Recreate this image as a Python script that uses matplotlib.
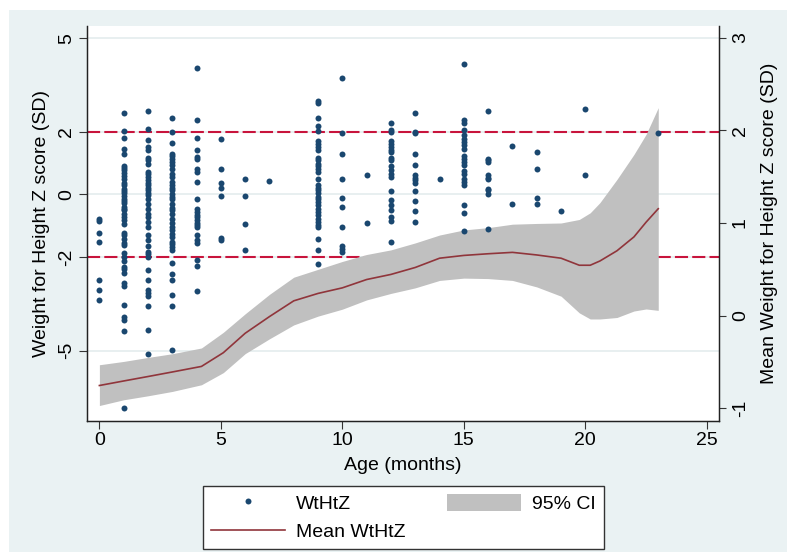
import matplotlib
matplotlib.use("Agg")
import matplotlib.pyplot as plt
from matplotlib.lines import Line2D
from matplotlib.patches import Patch, Rectangle
from matplotlib.transforms import blended_transform_factory

plt.rcParams['font.family'] = ['Liberation Sans', 'DejaVu Sans']

# ---- data ----
# individual WtHtZ values (left axis), grouped by age in months
point_ages = [0, 1, 2, 3, 4, 5, 6, 7, 9, 10, 11, 12, 13, 14, 15, 16, 17, 18, 19, 20, 23]
point_values = [
    [-0.80, -0.84, -1.23, -1.53, -2.73, -3.06, -3.39],
    [2.60, 2.02, 1.81, 1.47, 1.31, 0.92, 0.85, 0.78, 0.69, 0.58, 0.48, 0.37, 0.30, 0.19, 0.12,
     0.05, -0.05, -0.16, -0.22, -0.27, -0.39, -0.45, -0.50, -0.61, -0.71, -0.82, -0.95, -1.22,
     -1.30, -1.41, -1.54, -1.62, -1.86, -2.01, -2.12, -2.31, -2.40, -2.52, -2.84, -2.93, -3.53,
     -3.91, -4.01, -4.36, -6.84],
    [2.68, 2.08, 1.73, 1.52, 1.43, 1.18, 1.09, 0.97, 0.72, 0.65, 0.56, 0.46, 0.37, 0.30, 0.22,
     0.14, 0.05, -0.03, -0.16, -0.29, -0.45, -0.61, -0.71, -0.87, -1.03, -1.30, -1.46, -1.65,
     -1.83, -1.91, -1.99, -2.42, -2.73, -3.05, -3.16, -3.24, -3.56, -4.33, -5.11],
    [2.44, 2.01, 1.64, 1.31, 1.22, 1.15, 1.04, 0.94, 0.80, 0.67, 0.56, 0.40, 0.30, 0.22, 0.14,
     0.01, -0.08, -0.16, -0.29, -0.42, -0.50, -0.63, -0.77, -0.91, -1.03, -1.14, -1.25, -1.35,
     -1.51, -1.57, -1.67, -1.78, -2.18, -2.55, -2.73, -3.21, -3.58, -4.97],
    [4.05, 2.38, 1.81, 1.41, 1.20, 1.12, 0.80, 0.72, 0.40, -0.13, -0.48, -0.55, -0.66, -0.73,
     -0.82, -0.90, -0.98, -1.05, -1.30, -1.46, -1.54, -2.10, -2.29, -3.09],
    [1.79, 0.83, 0.38, 0.22, -0.04, -1.38, -1.46],
    [0.48, -0.04, -0.95, -1.79],
    [0.44],
    [2.98, 2.92, 2.46, 2.18, 2.03, 1.71, 1.63, 1.52, 1.43, 1.18, 1.09, 0.99, 0.90, 0.83, 0.72,
     0.51, 0.30, 0.22, 0.14, 0.05, -0.08, -0.16, -0.23, -0.34, -0.45, -0.55, -0.66, -0.77,
     -0.87, -0.98, -1.05, -1.44, -1.78, -2.22],
    [3.73, 1.97, 1.28, 0.51, -0.12, -0.39, -1.03, -1.65, -1.76, -1.84],
    [0.61, -0.92],
    [2.29, 2.07, 1.99, 1.71, 1.63, 1.52, 1.43, 1.36, 1.18, 1.09, 0.91, 0.77, 0.67, 0.56, 0.12,
     -0.18, -0.34, -0.50, -0.71, -0.84, -1.51],
    [2.61, 2.01, 1.97, 1.31, 0.95, 0.62, 0.53, 0.46, 0.38, 0.12, -0.21, -0.54, -0.87],
    [0.50],
    [4.16, 2.37, 2.29, 2.05, 1.89, 1.78, 1.68, 1.57, 1.46, 1.22, 1.15, 1.04, 0.94, 0.75, 0.65,
     0.51, 0.40, 0.30, -0.33, -0.59, -1.16],
    [2.67, 1.15, 1.09, 1.04, 0.62, 0.53, 0.48, 0.19, 0.14, 0.03, -1.09],
    [1.56, -0.31],
    [1.35, 0.82, -0.10, -0.31],
    [-0.53],
    [2.74, 0.61],
    [1.98],
]

# smoothed mean WtHtZ with 95% CI (right axis)
mean_age = [0, 1, 2, 3, 4.2, 5.1, 6, 7, 8, 9, 10, 11, 12, 13, 14, 15, 16, 17, 18, 19,
            19.75, 20.2, 20.6, 21.3, 22, 22.5, 23]
mean_wthtz = [-0.754, -0.705, -0.657, -0.608, -0.548, -0.40, -0.19, -0.01, 0.16, 0.24, 0.30,
              0.39, 0.445, 0.52, 0.62, 0.65, 0.668, 0.683, 0.655, 0.62, 0.544, 0.544, 0.59,
              0.70, 0.85, 1.009, 1.154]
ci_low = [-0.970, -0.908, -0.865, -0.818, -0.746, -0.615, -0.41, -0.25, -0.10, -0.005, 0.07,
          0.17, 0.24, 0.30, 0.38, 0.405, 0.40, 0.38, 0.31, 0.21, 0.03, -0.036, -0.036,
          -0.02, 0.05, 0.072, 0.057]
ci_high = [-0.530, -0.494, -0.451, -0.411, -0.349, -0.18, 0.02, 0.23, 0.415, 0.50, 0.585,
           0.66, 0.71, 0.785, 0.87, 0.925, 0.95, 0.987, 0.995, 1.00, 1.038, 1.11, 1.22,
           1.47, 1.74, 1.957, 2.245]

x_ticks = [0, 5, 10, 15, 20, 25]
left_ticks = [-5, -2, 0, 2, 5]
right_ticks = [-1, 0, 1, 2, 3]
ref_lines = [2, -2]

navy = '#1A476F'
maroon = '#90353B'
ci_gray = '#C0C0C0'
ref_red = '#C8143C'
bg = '#EAF2F3'

fig = plt.figure(figsize=(7.87, 5.52), dpi=100)
fig.patch.set_facecolor('white')
fig.add_artist(Rectangle((9 / 787, 0), 1, 1 - 10 / 552, transform=fig.transFigure,
                         facecolor=bg, edgecolor='none', zorder=-10))

# host axes carries the mean/CI (right scale), twin carries the points (left scale)
ax = fig.add_axes([87 / 787, 1 - 421 / 552, (719 - 87) / 787, (421 - 26) / 552])
ax2 = ax.twinx()
ax.set_facecolor('white')

# grid + reference lines on the left scale, drawn underneath the CI band
trans = blended_transform_factory(ax.transAxes, ax2.transData)
for v in left_ticks:
    ax.plot([0, 1], [v, v], transform=trans, color='#E4ECEE', lw=1.2, zorder=0.5)
for v in ref_lines:
    ax.plot([0, 1], [v, v], transform=trans, color=ref_red, lw=1.5,
            dashes=(6.3, 2.0), zorder=1)

ax.fill_between(mean_age, ci_low, ci_high, color=ci_gray, lw=0, zorder=2)
ax.plot(mean_age, mean_wthtz, color=maroon, lw=1.2, zorder=3)

for age, vals in zip(point_ages, point_values):
    ax2.plot([age] * len(vals), vals, 'o', ms=4.3, color=navy, mec='none')

ax.set_xlim(-0.51, 25.5)
ax.set_ylim(-1.137, 3.126)
ax2.set_ylim(-7.25, 5.39)

for a in (ax, ax2):
    a.spines['top'].set_visible(False)
    for s in ('left', 'right', 'bottom'):
        a.spines[s].set_color('#222222')
        a.spines[s].set_linewidth(0.9)

ax.set_xticks(x_ticks)
ax.tick_params(axis='x', length=5.8, width=0.8, color='#333333', labelsize=14, pad=2)

ax.yaxis.tick_right()
ax.set_yticks(right_ticks, [str(t) for t in right_ticks], rotation=90, va='center')
ax.tick_params(axis='y', length=5.2, width=0.8, color='#333333', labelsize=14, pad=4)

ax2.yaxis.tick_left()
ax2.set_yticks(left_ticks, [str(t) for t in left_ticks], rotation=90, va='center')
ax2.tick_params(axis='y', length=5.8, width=0.8, color='#333333', labelsize=14, pad=3)

ax.set_xlabel('Age (months)', fontsize=14, labelpad=6)
ax2.yaxis.set_label_position('left')
ax2.set_ylabel('Weight for Height Z score (SD)', fontsize=14)
ax2.yaxis.set_label_coords(-0.058, 0.5)
ax.yaxis.set_label_position('right')
ax.set_ylabel('Mean Weight for Height Z score (SD)', fontsize=14)
ax.yaxis.set_label_coords(1.066, 0.5)

handles = [
    Line2D([], [], marker='o', ls='none', ms=4.3, color=navy, mec='none'),
    Line2D([], [], color=maroon, lw=1.2),
    Patch(facecolor=ci_gray, edgecolor='none'),
]
labels = ['WtHtZ', 'Mean WtHtZ', '95% CI']
leg = fig.legend(handles, labels, ncol=2, loc='upper left',
                 bbox_to_anchor=(203 / 787, 1 - 486 / 552, (604 - 203) / 787, 0),
                 mode='expand', borderaxespad=0, fontsize=14, fancybox=False,
                 framealpha=1, facecolor='white', edgecolor='#333333',
                 handlelength=3.8, handleheight=1.0, handletextpad=0.6,
                 labelspacing=0.45, borderpad=0.4, numpoints=1)
leg.get_frame().set_linewidth(1.0)

fig.savefig('out.png', dpi=100)
